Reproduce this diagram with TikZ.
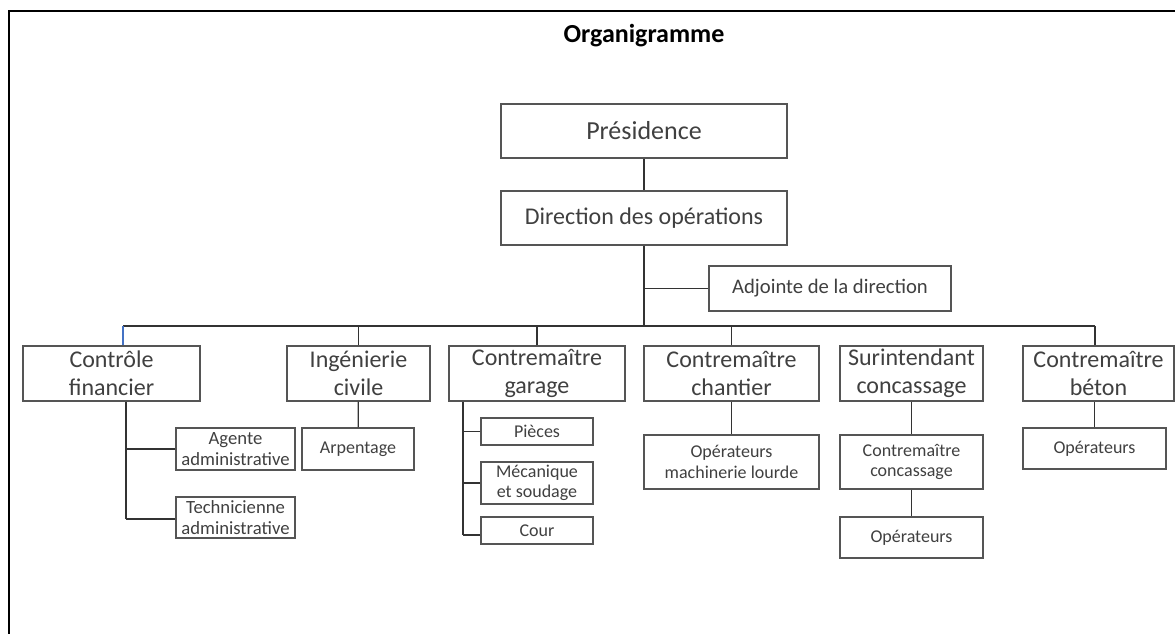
\documentclass[tikz,border=0pt]{standalone}
\usepackage{fontspec}
\setmainfont{Carlito}
\definecolor{txt}{HTML}{404040}
\definecolor{bord}{HTML}{555555}
\definecolor{conn}{HTML}{333333}
\definecolor{bluel}{HTML}{4472C4}
\begin{document}
\begin{tikzpicture}[x=0.75pt,y=-0.75pt,
  bx/.style={draw=bord, line width=0.9pt, inner sep=0pt, align=center, text=txt, fill=white},
  wh/.style 2 args={minimum width=#1*0.75pt, minimum height=#2*0.75pt},
  big/.style={font=\fontsize{18}{21}\selectfont},
  pres/.style={font=\fontsize{19.5}{23}\selectfont},
  mid/.style={font=\fontsize{15.5}{18}\selectfont},
  small/.style={font=\fontsize{13.5}{15.5}\selectfont},
  smallb/.style={font=\fontsize{14}{15.5}\selectfont},
  cn/.style={draw=conn, line width=0.9pt},
  frame/.style={draw=black, line width=1.6pt}]
\useasboundingbox (0,0) rectangle (1175,634);
% frame
\coordinate (fTL) at (9,11);
\coordinate (fTR) at (1175,11);
\coordinate (fBL) at (9,634);
\draw[frame] (fBL) -- (fTL) -- (fTR);
\node[font=\fontsize{19.5}{22}\bfseries\selectfont] (title) at (644,36) {Organigramme};
% top
\node[bx,wh={286}{54},pres] (pres) at (644,131) {Présidence};
\node[bx,wh={286}{54},big] (dir) at (644,218) {Direction des opérations};
\node[bx,wh={242}{45},mid] (adj) at (830,288.5) {Adjointe de la direction};
% level 1
\node[bx,wh={177}{55},big] (cf) at (111.5,373.5) {Contrôle\\financier};
\node[bx,wh={143}{55},big] (ic) at (358.5,373.5) {Ingénierie\\civile};
\node[bx,wh={176}{55},big] (cg) at (537,373.5) {Contremaître\\garage};
\node[bx,wh={175}{55},big] (cc) at (731.5,373.5) {Contremaître\\chantier};
\node[bx,wh={143}{55},big] (sc) at (911.5,373.5) {Surintendant\\concassage};
\node[bx,wh={151}{55},big] (cb) at (1098.5,373.5) {Contremaître\\béton};
% level 2
\node[bx,wh={119}{42},smallb] (aa) at (235.5,449) {Agente\\administrative};
\node[bx,wh={119}{41},smallb] (ta) at (235.5,517.5) {Technicienne\\administrative};
\node[bx,wh={112}{42},small] (arp) at (358,449) {Arpentage};
\node[bx,wh={112}{27},small] (pie) at (537,431.5) {Pièces};
\node[bx,wh={112}{42},small] (mec) at (537,483) {Mécanique\\et soudage};
\node[bx,wh={112}{27},small] (cour) at (537,530.5) {Cour};
\node[bx,wh={175}{54},small] (oml) at (731.5,462) {Opérateurs\\machinerie lourde};
\node[bx,wh={143}{54},small] (ccon) at (911.5,462) {Contremaître\\concassage};
\node[bx,wh={143}{41},small] (opc) at (911.5,537.5) {Opérateurs};
\node[bx,wh={143}{41},small] (opb) at (1094.5,448.5) {Opérateurs};
% connectors
\coordinate (busL) at (123,326);
\coordinate (busR) at (1095,326);
\coordinate (busM) at (644,326);
\draw[cn] (pres) -- (dir);
\draw[cn] (dir) -- (busM);
\draw[cn] (adj.west) -- (adj.west -| busM);
\draw[cn] (busL) -- (busR);
\draw[draw=bluel, line width=0.9pt] (busL) -- (busL |- cf.north);
\draw[cn] (ic.north) -- (ic.north |- busM);
\draw[cn] (cg.north) -- (cg.north |- busM);
\draw[cn] (cc.north) -- (cc.north |- busM);
\draw[cn] (busR) -- (busR |- cb.north);
% controle financier children
\coordinate (cfv) at (126,519);
\draw[cn] (cfv |- cf.south) -- (cfv);
\draw[cn] (aa.west) -- (aa.west -| cfv);
\draw[cn] (ta.west |- cfv) -- (cfv);
\draw[cn] (ic) -- (arp);
% garage children
\coordinate (cgv) at (463,535);
\draw[cn] (cgv |- cg.south) -- (cgv);
\draw[cn] (pie.west) -- (pie.west -| cgv);
\draw[cn] (mec.west) -- (mec.west -| cgv);
\draw[cn] (cour.west |- cgv) -- (cgv);
\draw[cn] (cc) -- (oml);
\draw[cn] (sc) -- (ccon);
\draw[cn] (ccon) -- (opc);
\draw[cn] (opb.north) -- (opb.north |- cb.south);
\end{tikzpicture}
\end{document}
